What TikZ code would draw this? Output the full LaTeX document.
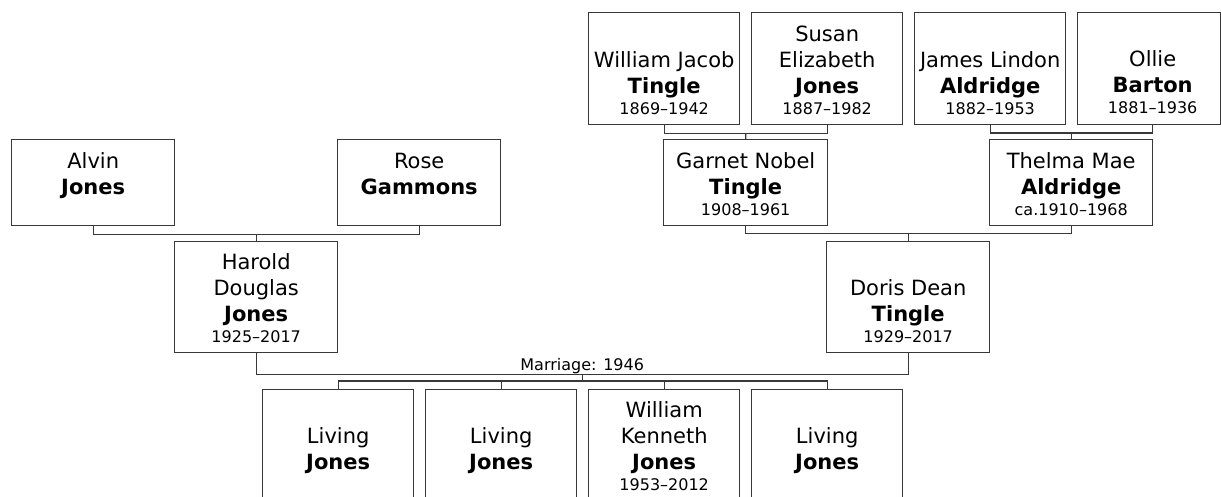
\documentclass[tikz,border=0pt]{standalone}
\usepackage{fontspec}
\setmainfont{DejaVu Sans}
\usetikzlibrary{calc}
\definecolor{linegray}{HTML}{383838}
\tikzset{
  pbox/.style={draw=linegray, line width=1.4pt, inner sep=0pt, fill=white},
  conn/.style={draw=linegray, line width=1.4pt},
  datetext/.style={font=\fontsize{16}{20}\selectfont, inner sep=0pt, anchor=base},
  surtext/.style={font=\fontsize{21}{26}\selectfont\bfseries, inner sep=0pt, anchor=base},
  giventext/.style={font=\fontsize{21}{26}\selectfont, inner sep=0pt, anchor=south, text depth=0pt, align=center},
}
% #1 id, #2 left, #3 top, #4 width, #5 height, #6 given name lines, #7 surname, #8 dates
\newcommand{\pers}[8]{%
  \node[pbox, minimum width=#4, minimum height=#5, anchor=north west] (#1) at (#2,#3) {};
  \node[datetext] (#1-d) at ([yshift=11pt]#1.south) {#8};
  \node[surtext] (#1-s) at ([yshift=21pt]#1-d.base) {#7};
  \node[giventext] (#1-g) at ([yshift=26pt]#1-s.base) {#6};
}
\begin{document}
\begin{tikzpicture}[x=1pt, y=-1pt]
\useasboundingbox (0,0) rectangle (1221,496);
\clip (0,0) rectangle (1221,496);

% great-grandparents
\pers{wj}{588}{12}{151}{112}{William Jacob}{Tingle}{1869–1942}
\pers{se}{751}{12}{151}{112}{Susan\\Elizabeth}{Jones}{1887–1982}
\pers{jl}{914}{12}{151}{112}{James Lindon}{Aldridge}{1882–1953}
% Ollie (box cut at the right edge of the picture)
\node[pbox, minimum width=143.3, minimum height=112, anchor=north west] (obbox) at (1077,12) {};
\node[inner sep=0pt, minimum width=151, minimum height=112, anchor=north west] (ob) at (1077,12) {};
\node[datetext] (ob-d) at ([yshift=11pt]ob.south) {1881–1936};
\node[surtext] (ob-s) at ([yshift=21pt]ob-d.base) {Barton};
\node[giventext] (ob-g) at ([yshift=26pt]ob-s.base) {Ollie};

% grandparents
\pers{aj}{11}{139}{163}{86}{Alvin}{Jones}{}
\pers{rg}{337}{139}{163}{86}{Rose}{Gammons}{}
\pers{gt}{663}{139}{164}{86}{Garnet Nobel}{Tingle}{1908–1961}
\pers{ta}{989}{139}{163}{86}{Thelma Mae}{Aldridge}{ca.1910–1968}

% parents
\pers{hj}{174}{241}{163}{111}{Harold\\Douglas}{Jones}{1925–2017}
\pers{dt}{826}{241}{163}{111}{Doris Dean}{Tingle}{1929–2017}

% children
\pers{c1}{262}{389}{151}{111}{Living}{Jones}{}
\pers{c2}{425}{389}{151}{111}{Living}{Jones}{}
\pers{c3}{588}{389}{151}{111}{William\\Kenneth}{Jones}{1953–2012}
\pers{c4}{751}{389}{151}{111}{Living}{Jones}{}

% connectors: great-grandparents -> grandparents
\coordinate (j1) at ($(wj.south)!0.5!(se.south)+(0,8)$);
\draw[conn] (wj.south) |- (j1) -| (se.south);
\draw[conn] (j1) -- (gt.north);
\coordinate (j2) at ($(jl.south)!0.5!(ob.south)+(0,8)$);
\draw[conn] (jl.south) |- (j2) -| (ob.south);
\draw[conn] (j2) -- (j2 |- ta.north);

% grandparents -> parents
\coordinate (j3) at ($(aj.south)!0.5!(rg.south)+(0,8)$);
\draw[conn] (aj.south) |- (j3) -| (rg.south);
\draw[conn] (j3) -- (j3 |- hj.north);
\coordinate (j4) at ($(gt.south)!0.5!(ta.south)+(0,7)$);
\draw[conn] (gt.south) |- (j4) -| (ta.south);
\draw[conn] (j4) -- (j4 |- dt.north);

% marriage
\coordinate (m) at ($(hj.south)!0.5!(dt.south)+(0,21)$);
\draw[conn] (hj.south) |- (m) -| (dt.south);
\node[datetext] (mlabel) at ($(m)+(0,-4)$) {Marriage: 1946};

% children connector
\coordinate (cj) at ($(c1.north)!0.5!(c4.north)+(0,-8)$);
\draw[conn] (m) -- (m |- cj);
\draw[conn] (c1.north) |- (cj) -| (c4.north);
\draw[conn] (c2.north) -- (c2.north |- cj);
\draw[conn] (c3.north) -- (c3.north |- cj);
\end{tikzpicture}
\end{document}
